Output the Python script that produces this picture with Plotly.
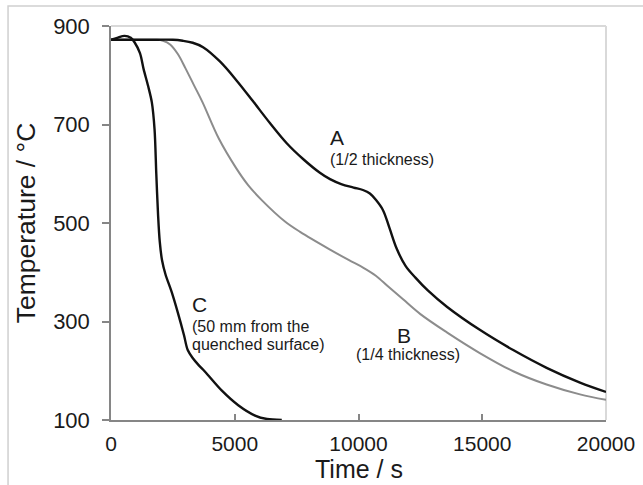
import plotly.graph_objects as go

# ---- data (time in s, temperature in °C) ----
a_time = [0, 1500, 2500, 2900, 3300, 3720, 4400, 5080, 5740, 6420, 7100, 7760, 8440, 8850,
          9300, 9800, 10180, 10460, 10700, 10990, 11250, 11550, 11900, 12300, 12800, 13570, 14900,
          16250, 17600, 18950, 20000]
a_temp = [872, 872, 872, 870, 866, 857, 828, 789, 747, 703, 662, 630, 602, 589,
          579, 572, 567, 560, 547, 526, 490, 447, 413, 389, 363, 330, 283,
          242, 206, 176, 157]

b_time = [0, 1000, 1800, 2100, 2400, 2700, 3000, 3350, 3700, 4350, 5050, 5540, 6100, 7030, 7640,
          8850, 9600, 10200, 10700, 11200, 11800, 12500, 13570, 14900, 16250, 17600, 18950, 20000]
b_temp = [872, 872, 872, 870, 862, 843, 815, 780, 745, 672, 612, 577, 546, 503, 482,
          446, 425, 409, 393, 371, 345, 315, 278, 236, 199, 172, 152, 141]

c_time = [0, 250, 550, 800, 950, 1170, 1320, 1500, 1650, 1760, 1830, 1900, 1970, 2060, 2200, 2450,
          2700, 2950, 3100, 3300, 3550, 3800, 4470, 5140, 5820, 6300, 6900]
c_temp = [872, 876, 880, 876, 867, 845, 812, 778, 745, 690, 600, 518, 462, 425, 396, 360,
          318, 272, 242, 226, 211, 198, 160, 130, 109, 102, 100]

x_ticks = [0, 5000, 10000, 15000, 20000]
y_ticks = [100, 300, 500, 700, 900]

FONT = "Arial, Liberation Sans, sans-serif"
TXT = "#1a1a1a"

fig = go.Figure()
fig.add_trace(go.Scatter(x=b_time, y=b_temp, mode="lines",
                         line=dict(color="#8c8c8c", width=2, shape="spline", smoothing=1.0),
                         hoverinfo="skip"))
fig.add_trace(go.Scatter(x=a_time, y=a_temp, mode="lines",
                         line=dict(color="#111111", width=2.4, shape="spline", smoothing=1.0),
                         hoverinfo="skip"))
fig.add_trace(go.Scatter(x=c_time, y=c_temp, mode="lines",
                         line=dict(color="#111111", width=2.4, shape="spline", smoothing=0.9),
                         hoverinfo="skip"))

ann = []
def label(x, y, text, size, anchor):
    ann.append(dict(x=x, y=y, xref="x", yref="y", text=text, showarrow=False,
                    xanchor=anchor, yanchor="middle",
                    font=dict(family=FONT, size=size, color=TXT)))

label(8770, 674, "A", 21, "left")
label(8770, 628, "(1/2 thickness)", 16, "left")
label(11840, 272, "B", 21, "center")
label(12000, 232, "(1/4 thickness)", 16, "center")
label(3190, 334, "C", 21, "left")
label(3190, 289, "(50 mm from the", 16, "left")
label(3190, 254, "quenched surface)", 16, "left")

# x-axis title placed as a paper annotation near the bottom edge
ann.append(dict(x=0.5, y=-0.1645, xref="paper", yref="paper", text="Time / s", showarrow=False,
                xanchor="center", yanchor="bottom",
                font=dict(family=FONT, size=25, color=TXT)))

fig.update_layout(
    width=643, height=485,
    margin=dict(l=111, r=37, t=26, b=65),
    paper_bgcolor="white", plot_bgcolor="white",
    showlegend=False,
    font=dict(family=FONT, color=TXT),
    annotations=ann,
    shapes=[
        dict(type="rect", xref="paper", yref="paper", x0=-0.208, x1=1.2, y0=-0.3, y1=1.0508,
             line=dict(color="#d0d0d0", width=1.5), layer="below"),
        dict(type="line", xref="paper", yref="paper", x0=0, x1=1, y0=1, y1=1,
             line=dict(color="#d9d9d9", width=2), layer="below"),
        dict(type="line", xref="paper", yref="paper", x0=1, x1=1, y0=0, y1=1,
             line=dict(color="#d9d9d9", width=2), layer="below"),
    ],
)
fig.update_xaxes(range=[0, 20000], tickvals=x_ticks, ticktext=[str(v) for v in x_ticks],
                 automargin=False,
                 showgrid=False, zeroline=False, showline=True, linecolor="#868686", linewidth=1.5,
                 ticks="inside", ticklen=6, tickcolor="#868686", tickwidth=1.5,
                 ticklabelstandoff=4,
                 tickfont=dict(family=FONT, size=21, color=TXT))
fig.update_yaxes(range=[100, 900], tickvals=y_ticks, ticktext=[str(v) for v in y_ticks],
                 automargin=False,
                 showgrid=False, zeroline=False, showline=True, linecolor="#868686", linewidth=1.5,
                 ticks="outside", ticklen=7, tickcolor="#868686", tickwidth=1.5,
                 ticklabelstandoff=8,
                 tickfont=dict(family=FONT, size=22, color=TXT),
                 title=dict(text="Temperature / °C", font=dict(family=FONT, size=26.5, color=TXT), standoff=10))

fig.write_html("out.html")
